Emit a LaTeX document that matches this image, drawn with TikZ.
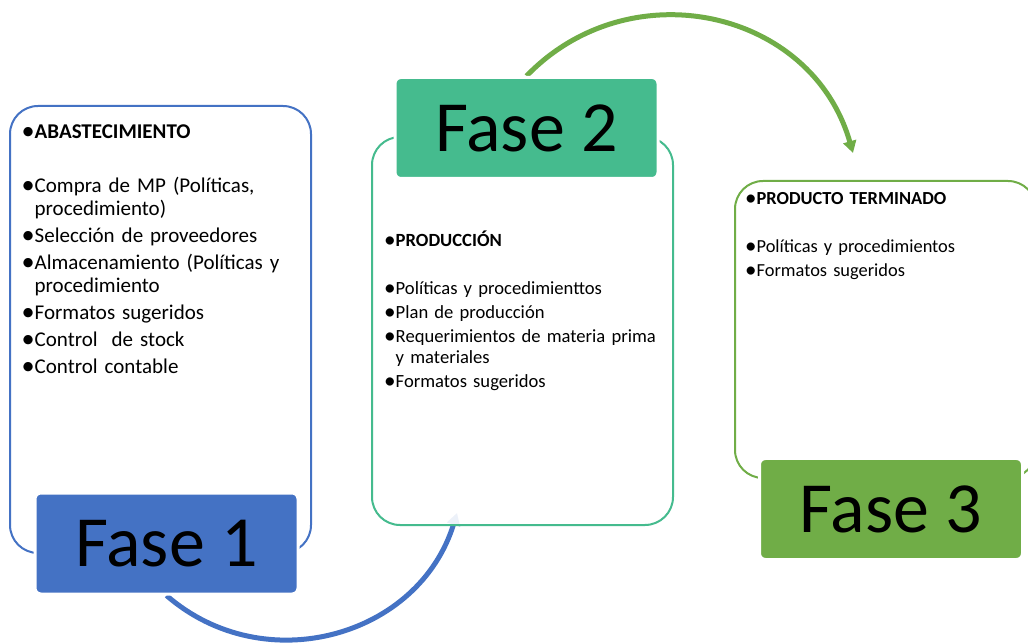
\documentclass[tikz,border=0pt]{standalone}
\usepackage{fontspec}
\setmainfont{Carlito}
\usetikzlibrary{arrows.meta}

\definecolor{azul}{RGB}{68,114,196}
\definecolor{turquesa}{RGB}{69,187,142}
\definecolor{verde}{RGB}{112,173,71}
\newcommand{\itm}[1]{\par\hangindent=0.62em\hangafter=1\noindent\makebox[0.62em][c]{\raisebox{-0.08em}{\scalebox{1.25}{\textbullet}}}\strut#1}
\newcommand{\vacio}{\par\noindent\strut}
\pgfdeclarelayer{fondo}
\pgfsetlayers{fondo,main}

\begin{document}
\begin{tikzpicture}[x=1pt, y=1pt,
        marco/.style={rounded corners=28pt, line width=2pt, fill=white, fill opacity=0.9, minimum width=301pt},
        fase/.style={rounded corners=6pt, draw=white, line width=3pt, text=black, minimum width=263pt, minimum height=101pt, font=\fontsize{72}{80}\selectfont},
        lista/.style={anchor=north west, inner sep=0pt, text width=285pt},
        flecha/.style={line width=5pt, -{Triangle[width=13pt,length=12pt]}, looseness=1.1}]
    \useasboundingbox (0,0) rectangle (1028,643);
    % cajas
    \node[marco, draw=azul, minimum height=447pt] (c1) at (160.5,313.5) {};
    \node[marco, draw=turquesa, minimum height=388pt] (c2) at (522.5,312) {};
    \node[marco, draw=verde, minimum height=297pt] (c3) at (885.5,313.5) {};
    % textos
    \node[lista, font=\fontsize{21}{23}\selectfont] (t1) at (21.5,532) {\setlength{\parskip}{4pt}\rightskip=0pt plus 1fil%
        \itm{\textbf{ABASTECIMIENTO}}\vacio
        \itm{Compra de MP (Políticas,\newline procedimiento)}
        \itm{Selección de proveedores}
        \itm{Almacenamiento (Políticas y\newline procedimiento}
        \itm{Formatos sugeridos}
        \itm{Control\ \ de stock}
        \itm{Control contable}};
    \node[lista, font=\fontsize{18.6}{21}\selectfont] (t2) at (384,421) {\setlength{\parskip}{3pt}\rightskip=0pt plus 1fil%
        \itm{\textbf{PRODUCCIÓN}}\vacio
        \itm{Políticas y procedimienttos}
        \itm{Plan de producción}
        \itm{Requerimientos de materia prima\newline y materiales}
        \itm{Formatos sugeridos}};
    \node[lista, font=\fontsize{18.4}{20}\selectfont, text width=275pt] (t3) at (745,463) {\setlength{\parskip}{4pt}\rightskip=0pt plus 1fil%
        \itm{\textbf{PRODUCTO TERMINADO}}\vacio
        \itm{Políticas y procedimientos}
        \itm{Formatos sugeridos}};
    % fases
    \node[fase, fill=azul] (f1) at (166.5,99.5) {Fase 1};
    \node[fase, fill=turquesa] (f2) at (526.5,515) {Fase 2};
    \node[fase, fill=verde] (f3) at (891,134) {Fase 3};
    % flechas
    \coordinate (p2) at (457,130);
    \coordinate (p3) at (853,490);
    \begin{pgfonlayer}{fondo}
        \draw[flecha, azul] (f1.south) to[out=-41, in=253] (p2);
        \draw[flecha, verde, looseness=1.14] (f2.north) to[out=46, in=106] (p3);
    \end{pgfonlayer}
\end{tikzpicture}
\end{document}
